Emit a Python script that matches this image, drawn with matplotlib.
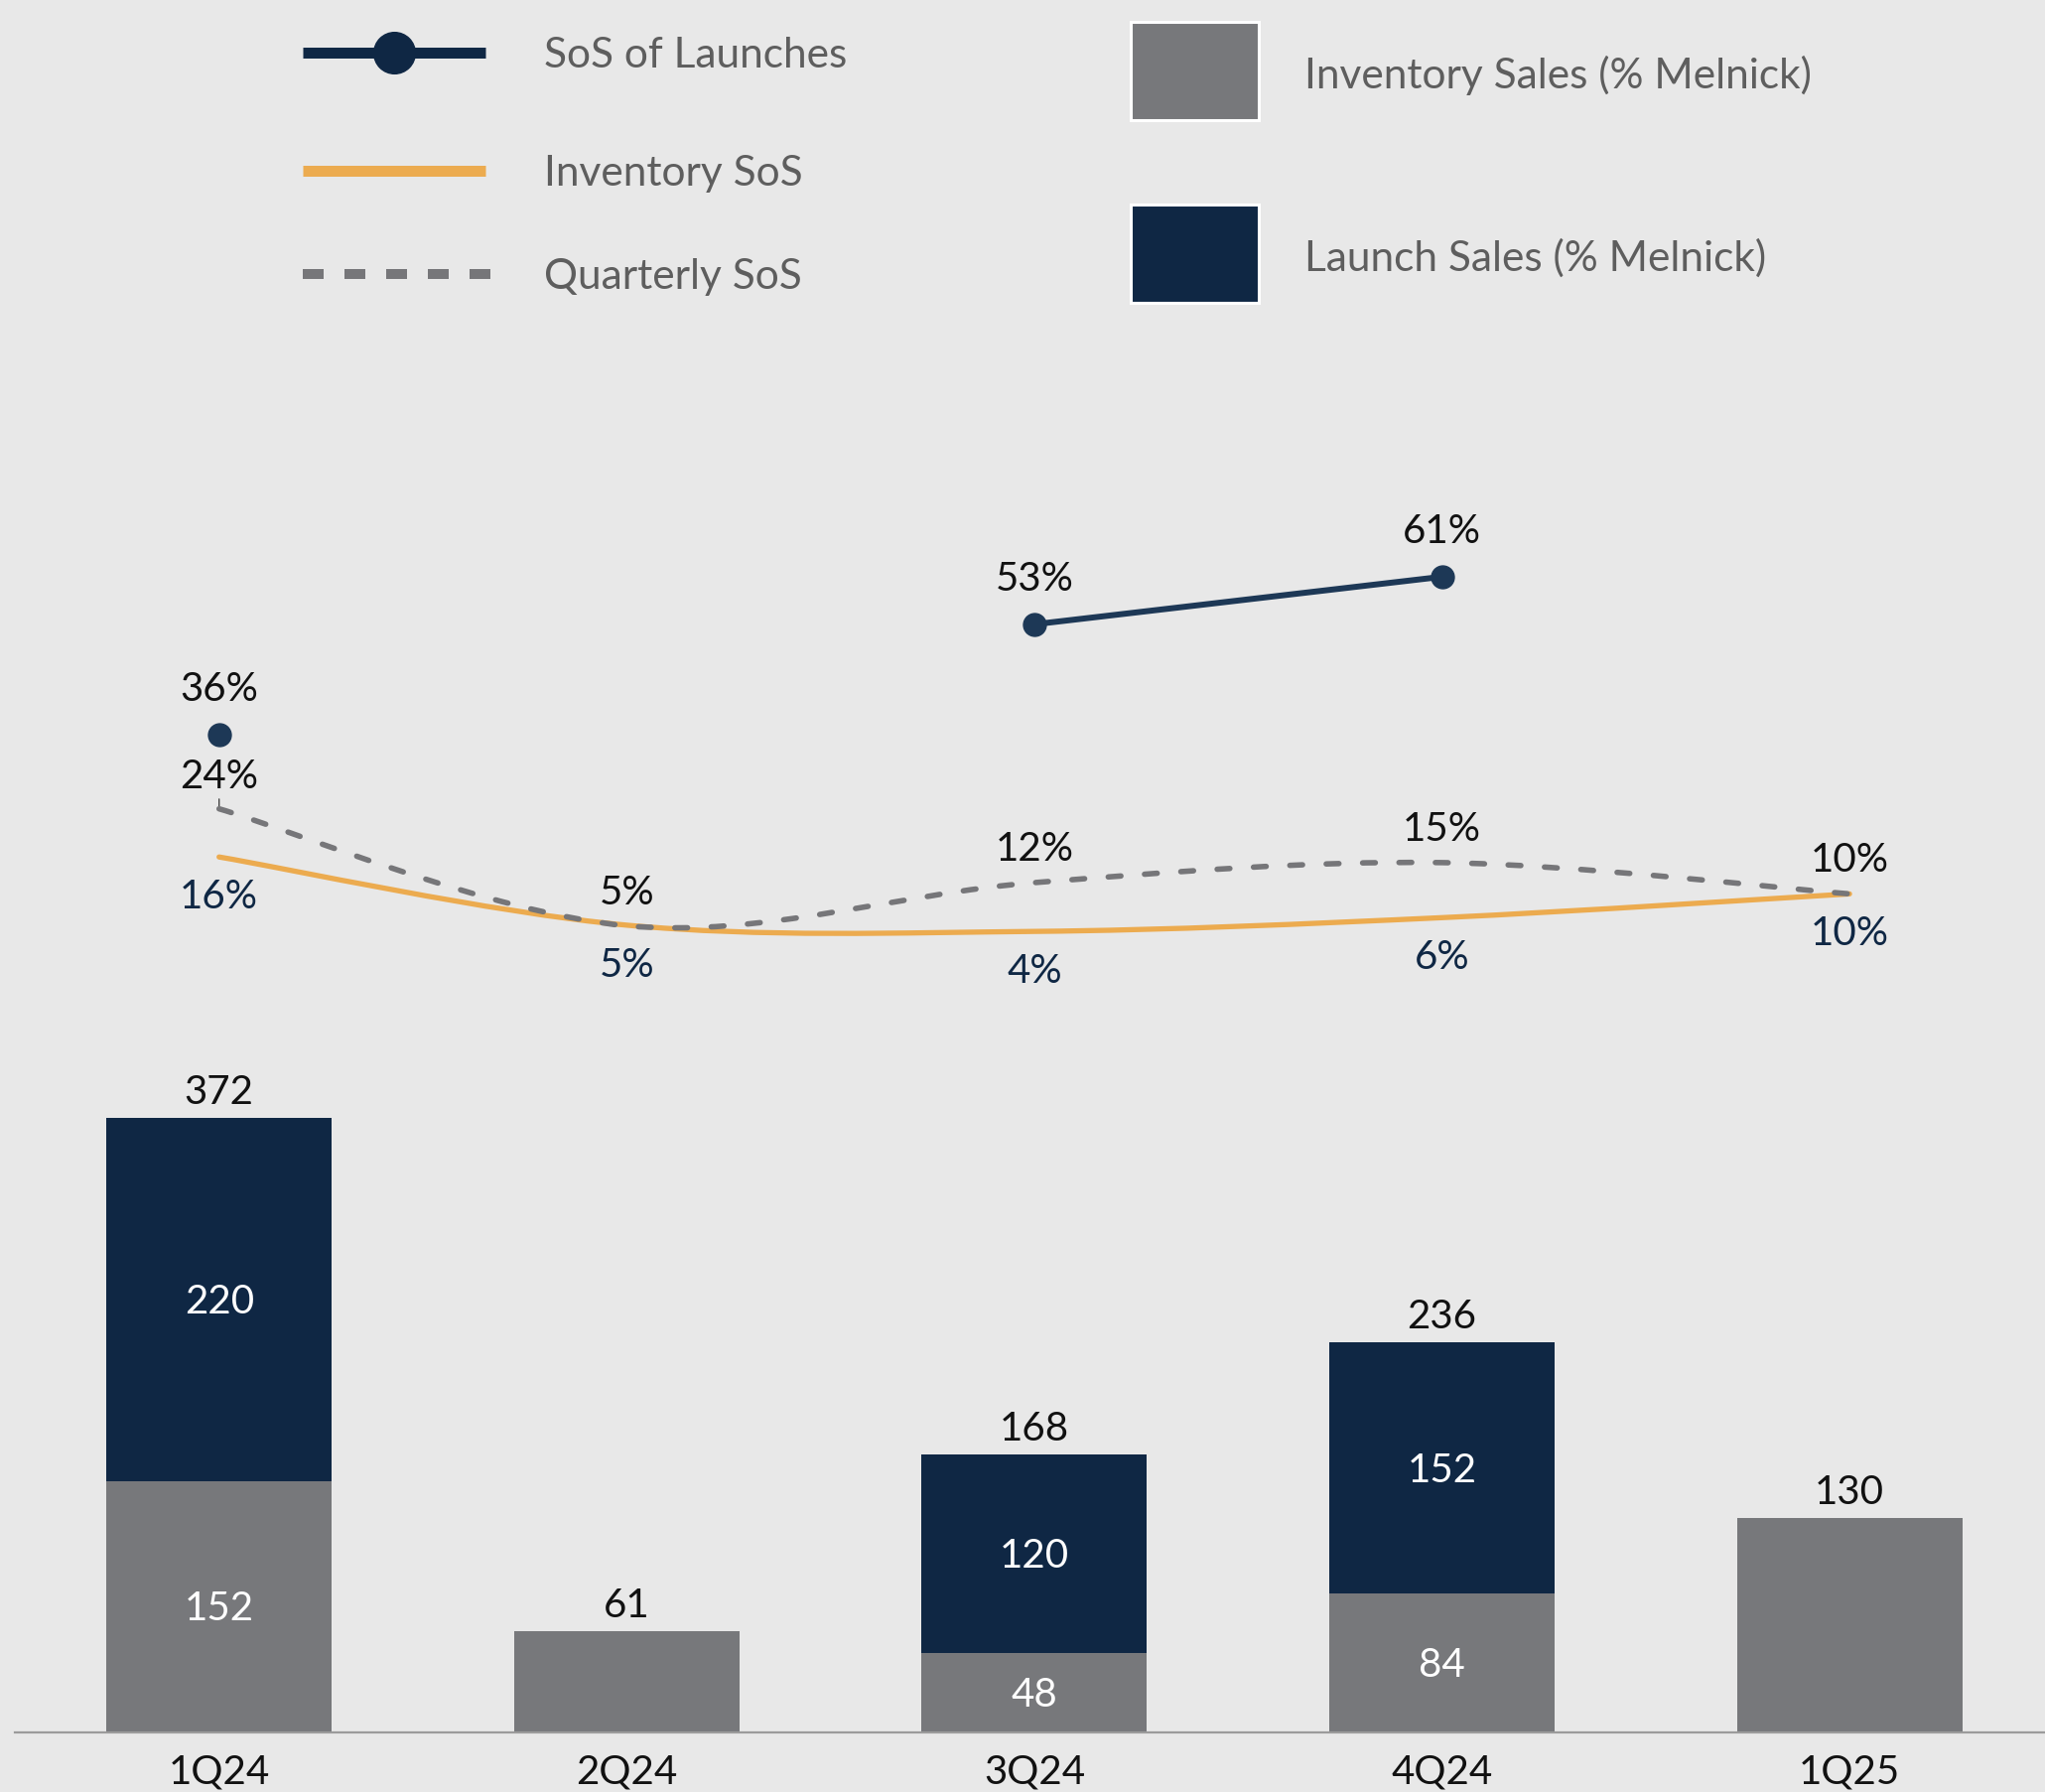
import numpy as np
import matplotlib
matplotlib.use("Agg")
import matplotlib.pyplot as plt
from matplotlib.lines import Line2D
from matplotlib.patches import PathPatch, Rectangle
from matplotlib.path import Path

plt.rcParams["font.family"] = ["Lato", "DejaVu Sans"]

# data
quarters = ["1Q24", "2Q24", "3Q24", "4Q24", "1Q25"]
inventory_sales = [152, 61, 48, 84, 130]
launch_sales = [220, 0, 120, 152, 0]
sos_launches = [35.6, np.nan, 53.2, 60.8, np.nan]
inventory_sos = [16.0, 5.1, 4.1, 6.3, 10.1]
quarterly_sos = [23.7, 5.0, 11.9, 15.1, 10.1]

BG = "#e8e8e8"
GRAY = "#77787b"
NAVY = "#0f2744"
NAVY_LINE = "#1d3856"
ORANGE = "#ecab4f"
DASH = "#767679"
LABEL = "#111111"
LEGEND_TXT = "#5e5e5e"
FS = 29


def smooth_path(xs, ys):
    pts = np.column_stack([xs, ys]).astype(float)
    n = len(pts)
    verts = [pts[0]]
    codes = [Path.MOVETO]
    for i in range(n - 1):
        p0 = pts[i - 1] if i > 0 else pts[i]
        p1, p2 = pts[i], pts[i + 1]
        p3 = pts[i + 2] if i + 2 < n else pts[i + 1]
        verts += [p1 + (p2 - p0) / 6, p2 - (p3 - p1) / 6, p2]
        codes += [Path.CURVE4] * 3
    return Path(verts, codes)


fig = plt.figure(figsize=(20.6, 18.05), dpi=100, facecolor=BG)
ax = fig.add_axes([15.4 / 2060, 60 / 1805, 2053 / 2060, 1445 / 1805])
ax.set_facecolor(BG)
x = np.arange(len(quarters))
totals = [a + b for a, b in zip(inventory_sales, launch_sales)]

ax.bar(x, inventory_sales, width=0.553, color=GRAY, zorder=2)
ax.bar(x, launch_sales, width=0.553, bottom=inventory_sales, color=NAVY, zorder=2)
ax.set_xlim(-0.5, 4.5)
ax.set_ylim(0, 1445 / 1.665)

for i in x:
    ax.annotate(str(totals[i]), (i, totals[i]), xytext=(0, 14), textcoords="offset pixels",
                ha="center", va="baseline", fontsize=FS, color=LABEL)
    if inventory_sales[i] and launch_sales[i]:
        ax.annotate(str(inventory_sales[i]), (i, inventory_sales[i] / 2), xytext=(0, -14),
                    textcoords="offset pixels", ha="center", va="baseline", fontsize=FS, color="white")
        ax.annotate(str(launch_sales[i]), (i, inventory_sales[i] + launch_sales[i] / 2), xytext=(0, -14),
                    textcoords="offset pixels", ha="center", va="baseline", fontsize=FS, color="white")

for s in ["top", "right", "left"]:
    ax.spines[s].set_visible(False)
ax.spines["bottom"].set_color("#9b9b9b")
ax.spines["bottom"].set_linewidth(1.6)
ax.set_yticks([])
ax.set_xticks(x)
ax.set_xticklabels(quarters, fontsize=FS, color=LABEL)
ax.tick_params(axis="x", length=0, pad=37.4)
for lbl in ax.get_xticklabels():
    lbl.set_verticalalignment("baseline")

# secondary axis for percentages
ax2 = ax.twinx()
ax2.set_ylim(-(1745 - 964) / 6.3, (964 - 300) / 6.3)
ax2.axis("off")

ax2.add_patch(PathPatch(smooth_path(x, inventory_sos), fill=False, edgecolor=ORANGE,
                        linewidth=3.8, capstyle="round", zorder=3))
ax2.add_patch(PathPatch(smooth_path(x, quarterly_sos), fill=False, edgecolor=DASH,
                        linewidth=4.0, linestyle=(0, (2.3, 4.3)), capstyle="round", zorder=4))
ax2.plot(x, sos_launches, color=NAVY_LINE, linewidth=4.3, marker="o", markersize=16.5, zorder=5)

for i in x:
    if not np.isnan(sos_launches[i]):
        ax2.annotate(f"{sos_launches[i]:.0f}%", (i, sos_launches[i]), xytext=(0, 34),
                     textcoords="offset pixels", ha="center", va="baseline", fontsize=FS, color=LABEL)
    if i == 0:
        ax2.annotate(f"{quarterly_sos[i]:.0f}%", (i, quarterly_sos[i]), xytext=(0, 21),
                     textcoords="offset pixels", ha="center", va="baseline", fontsize=FS, color=LABEL,
                     arrowprops=dict(arrowstyle="-", color="#444444", lw=1, shrinkA=1, shrinkB=2))
    else:
        ax2.annotate(f"{quarterly_sos[i]:.0f}%", (i, quarterly_sos[i]), xytext=(0, 22),
                     textcoords="offset pixels", ha="center", va="baseline", fontsize=FS, color=LABEL)
    ax2.annotate(f"{inventory_sos[i]:.0f}%", (i, inventory_sos[i]), xytext=(0, -52),
                 textcoords="offset pixels", ha="center", va="baseline", fontsize=FS, color=NAVY)

# legend drawn in pixel coordinates
lax = fig.add_axes([0, 0, 1, 1])
lax.set_xlim(0, 2060)
lax.set_ylim(1805, 0)
lax.axis("off")

lax.add_line(Line2D([305, 489], [53, 53], color=NAVY, linewidth=7.9, solid_capstyle="butt"))
lax.add_line(Line2D([397], [53], color=NAVY, marker="o", markersize=30, linestyle="none"))
lax.add_line(Line2D([305, 489], [172, 172], color=ORANGE, linewidth=7.9, solid_capstyle="butt"))
lax.add_line(Line2D([305, 494], [276, 276], color=DASH, linewidth=7.2, solid_capstyle="butt",
                    dash_capstyle="butt", linestyle=(0, (2.1, 2.1))))
for label, yy in [("SoS of Launches", 53), ("Inventory SoS", 172), ("Quarterly SoS", 276)]:
    lax.text(548, yy + 15, label, fontsize=30.5, color=LEGEND_TXT, va="baseline")

lax.add_patch(Rectangle((1139, 22), 129, 99, facecolor=GRAY, edgecolor="white", linewidth=2.2))
lax.add_patch(Rectangle((1139, 206), 129, 99, facecolor=NAVY, edgecolor="white", linewidth=2.2))
lax.text(1314, 74 + 15, "Inventory Sales (% Melnick)", fontsize=30.5,
         color=LEGEND_TXT, va="baseline")
lax.text(1314, 258 + 15, "Launch Sales (% Melnick)", fontsize=30.5,
         color=LEGEND_TXT, va="baseline")

fig.savefig("out.png", dpi=100, facecolor=BG)
